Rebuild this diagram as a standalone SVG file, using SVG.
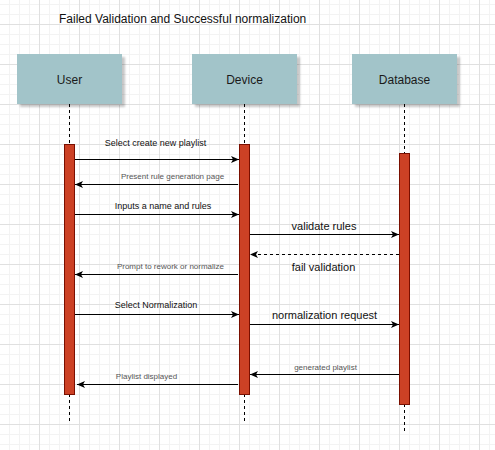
<svg xmlns="http://www.w3.org/2000/svg" width="495" height="450" viewBox="0 0 495 450">
<style>
.box{fill:#a2c4c9;stroke:none}
.shadow{fill:#000;opacity:0.22}
.name{font-family:"Liberation Sans",Arial,sans-serif;font-size:12px;fill:#1a1a1a;text-anchor:middle}
.life{stroke:#000;stroke-width:1;stroke-dasharray:3 3;fill:none}
.bar{fill:#cc4125;stroke:#7a0f00;stroke-width:1}
.msg{stroke:#000;stroke-width:1;fill:none;marker-end:url(#arr)}
.dash{stroke-dasharray:3 3}
.lbl{font-family:"Liberation Sans",Arial,sans-serif;text-anchor:middle;fill:#111}
.s9{font-size:9px}
.s11{font-size:11px}
.s8{font-size:8px;fill:#555}
.title{font-family:"Liberation Sans",Arial,sans-serif;font-size:12px;fill:#111}
</style>
<defs>
<pattern id="grid" patternUnits="userSpaceOnUse" x="-1" y="-16" width="40" height="40">
<path d="M10.5 0V40M20.5 0V40M30.5 0V40M0 10.5H40M0 20.5H40M0 30.5H40" stroke="#f3f3f3" stroke-width="1" fill="none"/>
<path d="M0.5 0V40M0 0.5H40" stroke="#e0e0e0" stroke-width="1" fill="none"/>
</pattern>
<filter id="blur" x="-20%" y="-20%" width="140%" height="140%"><feGaussianBlur stdDeviation="1.2"/></filter>
<marker id="arr" viewBox="0 0 8 8" refX="8" refY="4" markerWidth="8" markerHeight="8" markerUnits="userSpaceOnUse" orient="auto">
<path d="M0,0.5 L8,4 L0,7.5 L2,4 Z" fill="#000"/>
</marker>
</defs>
<rect width="495" height="450" fill="#fff"/>
<rect width="495" height="450" fill="url(#grid)"/>
<text class="title" x="59" y="23">Failed Validation and Successful normalization</text>

<g id="user">
<rect class="shadow" x="20" y="57" width="105" height="50" filter="url(#blur)"/>
<rect class="box" x="17" y="54" width="105" height="50"/>
<text class="name" x="69.5" y="83.5">User</text>
<path class="life" d="M69.5 104V144M69.5 394V421"/>
<rect class="bar" x="64.5" y="144.5" width="10" height="250"/>
</g>
<g id="device">
<rect class="shadow" x="195" y="57" width="105" height="50" filter="url(#blur)"/>
<rect class="box" x="192" y="54" width="105" height="50"/>
<text class="name" x="244.5" y="83.5">Device</text>
<path class="life" d="M244.5 104V144M244.5 394V421"/>
<rect class="bar" x="239.5" y="144.5" width="10" height="250"/>
</g>
<g id="database">
<rect class="shadow" x="355" y="57" width="105" height="50" filter="url(#blur)"/>
<rect class="box" x="352" y="54" width="105" height="50"/>
<text class="name" x="404.5" y="83.5">Database</text>
<path class="life" d="M404.5 104V153M404.5 404V432"/>
<rect class="bar" x="399.5" y="153.5" width="10" height="251"/>
</g>

<g id="connectors">
<path class="msg" d="M75 159.5H239"/>
<path class="msg" d="M238 184.5H75"/>
<path class="msg" d="M75 214.5H239"/>
<path class="msg" d="M250 234.5H399"/>
<path class="msg dash" d="M399 254.5H250"/>
<path class="msg" d="M238 274.5H75"/>
<path class="msg" d="M75 314.5H239"/>
<path class="msg" d="M250 324.5H399"/>
<path class="msg" d="M399 374.5H250"/>
<path class="msg" d="M238 384.5H77"/>
</g>

<g id="labels">
<text class="lbl s9" x="155.5" y="146">Select create new playlist</text>
<text class="lbl s8" x="172.5" y="179">Present rule generation page</text>
<text class="lbl s9" x="163" y="209">Inputs a name and rules</text>
<text class="lbl s11" x="324" y="230">validate rules</text>
<text class="lbl s11" x="323.5" y="271">fail validation</text>
<text class="lbl s8" x="170.5" y="269">Prompt to rework or normalize</text>
<text class="lbl s9" x="156" y="308">Select Normalization</text>
<text class="lbl s11" x="324.5" y="319">normalization request</text>
<text class="lbl s8" x="325.5" y="370">generated playlist</text>
<text class="lbl s8" x="146.5" y="379">Playlist displayed</text>
</g>
</svg>
